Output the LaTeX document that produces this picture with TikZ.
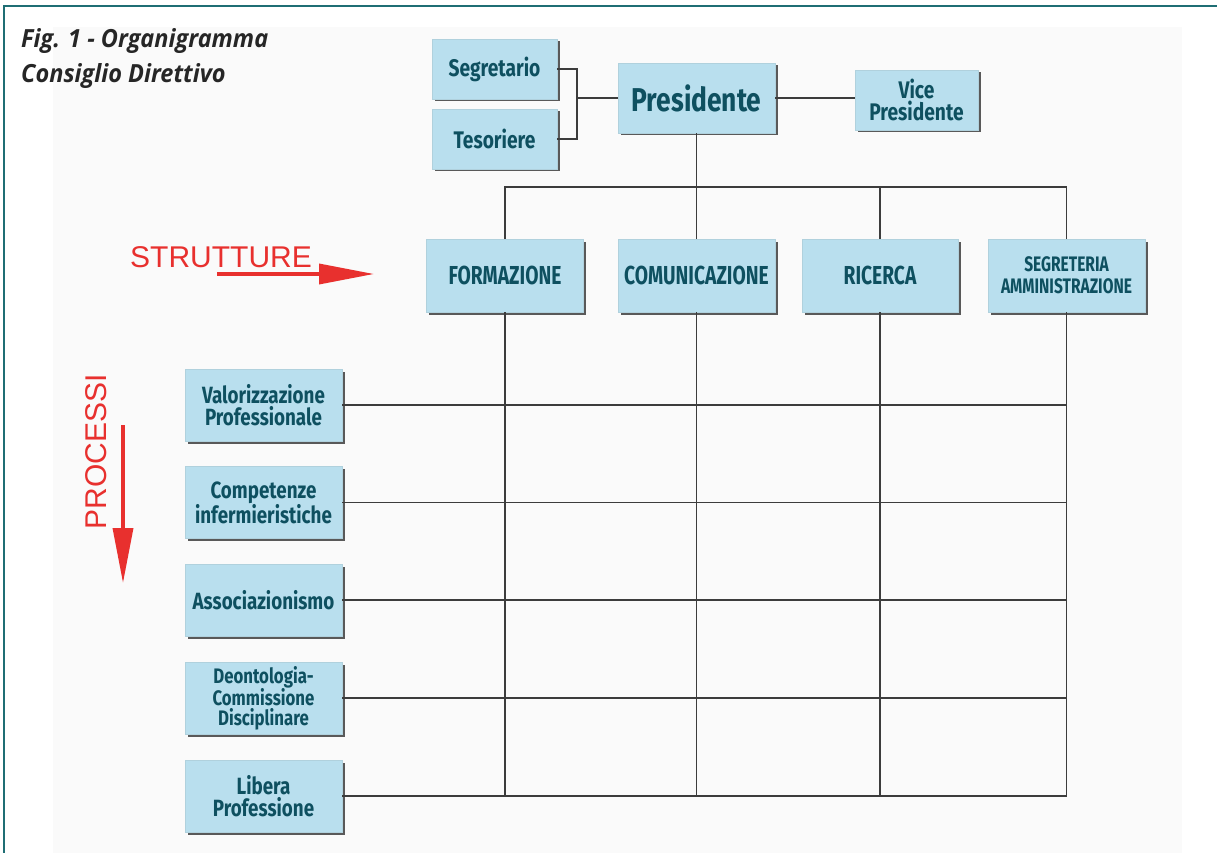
\documentclass[tikz,border=0pt]{standalone}
\usepackage{fontspec}
\setmainfont{Fira Sans}
\newfontfamily\cond[FakeStretch=0.8]{Fira Sans}
\newfontfamily\condcaps[FakeStretch=0.74]{Fira Sans}
\newfontfamily\titlefont[FakeStretch=0.94]{Open Sans}
\newfontfamily\hand{Liberation Sans}
\usetikzlibrary{shadows,arrows.meta}
\definecolor{boxblue}{HTML}{B9DFEE}
\definecolor{boxtext}{HTML}{0E5060}
\definecolor{linegray}{HTML}{3C3C3C}
\definecolor{handred}{HTML}{E8302E}
\definecolor{frameteal}{HTML}{1F6E74}
\definecolor{bggray}{HTML}{FAFAFA}
\tikzset{
  orgbox/.style={fill=boxblue, draw=boxblue!85!gray, line width=0.4pt,
    align=center, inner sep=0pt, text=boxtext,
    drop shadow={shadow xshift=2.5pt, shadow yshift=-2.5pt, fill=black!65, opacity=1}},
  proc/.style={orgbox, minimum width=157pt, minimum height=72pt,
    font=\cond\bfseries\fontsize{23.5}{22}\selectfont},
  strut/.style={orgbox, minimum width=157pt, minimum height=73pt,
    font=\condcaps\bfseries\fontsize{26}{22}\selectfont},
  conn/.style={draw=linegray, line width=1.5pt},
  redarrow/.style={draw=handred, line width=3.5pt, -{Triangle[length=55pt,width=20pt]}},
  handtext/.style={text=handred, font=\hand\fontsize{30}{30}\selectfont, inner sep=0pt}
}
\begin{document}
\begin{tikzpicture}[x=1pt,y=-1pt]
\useasboundingbox (0,0) rectangle (1217,853);
\fill[bggray] (53,27) rectangle (1182,853);
\draw[frameteal, line width=2pt] (4,853) -- (4,6) -- (1217,6);

\node[anchor=north west, align=left, inner sep=0pt, text=black!85,
  font=\titlefont\bfseries\itshape\fontsize{25}{35}\selectfont] (title) at (21,28)
  {Fig. 1 - Organigramma\\Consiglio Direttivo};

% top boxes
\node[orgbox, minimum width=125pt, minimum height=60pt, font=\cond\bfseries\fontsize{24}{22}\selectfont] (seg) at (494.5,69) {Segretario};
\node[orgbox, minimum width=125pt, minimum height=60pt, font=\cond\bfseries\fontsize{24}{22}\selectfont] (tes) at (494.5,139) {Tesoriere};
\node[orgbox, minimum width=157pt, minimum height=70pt, font=\cond\bfseries\fontsize{33}{30}\selectfont] (pres) at (696.5,98) {Presidente};
\node[orgbox, minimum width=123pt, minimum height=60pt, font=\cond\bfseries\fontsize{24}{22}\selectfont] (vice) at (916.5,100) {Vice\\Presidente};

% structures
\node[strut] (form) at (505,275.5) {FORMAZIONE};
\node[strut] (com) at (696.5,275.5) {COMUNICAZIONE};
\node[strut, minimum width=156pt] (ric) at (880,275.5) {RICERCA};
\node[strut, font=\condcaps\bfseries\fontsize{21}{22}\selectfont] (segam) at (1066.5,275.5) {SEGRETERIA\\AMMINISTRAZIONE};

% processes
\node[proc] (val) at (263.5,405) {Valorizzazione\\Professionale};
\node[proc] (comp) at (263.5,502.5) {Competenze\\infermieristiche};
\node[proc] (ass) at (263.5,600) {Associazionismo};
\node[proc, font=\cond\bfseries\fontsize{21}{19.5}\selectfont] (deo) at (263.5,698) {Deontologia-\\Commissione\\Disciplinare};
\node[proc] (lib) at (263.5,796) {Libera\\Professione};

% connectors top
\coordinate (br) at (577,98);
\coordinate (bus) at (696.5,187);
\draw[conn] (seg.east) -- (seg.east -| br) -- (tes.east -| br) -- (tes.east);
\draw[conn] (pres.west -| br) -- (pres.west);
\draw[conn] (pres.east) -- (vice.west |- pres.east);
\draw[conn] (pres.south) -- (bus);
\draw[conn] (form.north) -- (form.north |- bus) -- (segam.north |- bus) -- (segam.north);
\draw[conn] (com.north) -- (com.north |- bus);
\draw[conn] (ric.north) -- (ric.north |- bus);

% grid
\foreach \s in {form,com,ric,segam}
  \draw[conn] (\s.south) -- (\s.south |- lib.east);
\foreach \p in {val,comp,ass,deo,lib}
  \draw[conn] (\p.east) -- (\p.east -| segam.south);

% red annotations
\node[handtext, anchor=south west] (strt) at (130,268) {STRUTTURE};
\coordinate (sa0) at (217,274);
\coordinate (sa1) at (374,274);
\draw[redarrow] (sa0) -- (sa1);
\node[handtext, rotate=90] (proc) at (96,452) {PROCESSI};
\coordinate (pa0) at (123,425);
\coordinate (pa1) at (123,583);
\draw[redarrow] (pa0) -- (pa1);
\end{tikzpicture}
\end{document}
